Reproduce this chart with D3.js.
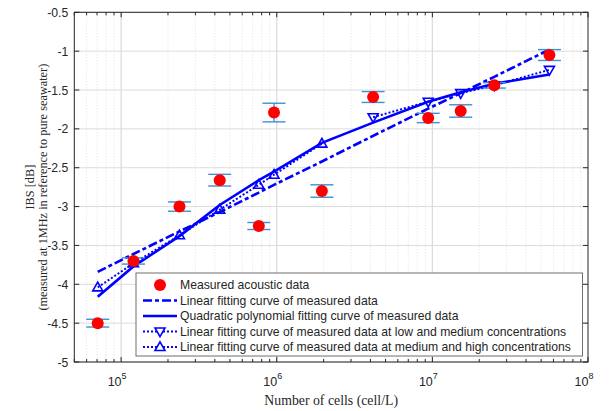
<!DOCTYPE html>
<html>
<head>
<meta charset="utf-8">
<script src="https://cdn.jsdelivr.net/npm/d3@7"></script>
<style>
  body { margin: 0; background: #fff; }
  text { font-family: Arial, "Liberation Sans", sans-serif; fill: #262626; }
  .serif { font-family: "Times New Roman", "Liberation Serif", serif; }
</style>
</head>
<body>
<div id="chart"></div>
<script>
// cell counts (cell/L) for each measurement
var cells = [7.07e4, 1.2e5, 2.37e5, 4.3e5, 7.67e5, 9.6e5, 1.95e6, 4.16e6, 9.4e6, 1.52e7, 2.5e7, 5.65e7];
var measured = [-4.5, -3.7, -3.0, -2.66, -3.25, -1.79, -2.8, -1.59, -1.86, -1.77, -1.44, -1.05];
var errHalf = [0.05, 0.04, 0.06, 0.075, 0.045, 0.12, 0.08, 0.07, 0.06, 0.08, 0.035, 0.07];

var linearFit = [-3.84, -3.61, -3.32, -3.07, -2.82, -2.72, -2.42, -2.09, -1.74, -1.54, -1.33, -0.98];
var quadFit = [-4.16, -3.77, -3.38, -2.98, -2.66, -2.55, -2.18, -1.92, -1.65, -1.53, -1.42, -1.30];
// dotted fits (markers as drawn in the figure)
var downTriX = [4.16e6, 9.4e6, 1.52e7, 2.5e7, 5.65e7];
var downTriY = [-1.85, -1.65, -1.54, -1.44, -1.24];
var upTriX = [7.07e4, 1.2e5, 2.37e5, 4.3e5, 7.67e5, 9.6e5, 1.95e6];
var upTriY = [-4.04, -3.73, -3.37, -3.04, -2.72, -2.59, -2.19];

var yTicks = [-5, -4.5, -4, -3.5, -3, -2.5, -2, -1.5, -1, -0.5];
var xDecades = [5, 6, 7, 8];

var legendLabels = [
  "Measured acoustic data",
  "Linear fitting curve of measured data",
  "Quadratic polynomial fitting curve of measured data",
  "Linear fitting curve of measured data at low and medium concentrations",
  "Linear fitting curve of measured data at medium and high concentrations"
];

var width = 610, height = 411;
var pLeft = 74.3, pTop = 12.3, pRight = 588, pBottom = 362;
var blue = "#0000ff";

var svg = d3.select("#chart").append("svg")
  .attr("width", width)
  .attr("height", height);

var x = d3.scaleLog().domain([5e4, 1e8]).range([pLeft, pRight]);
var y = d3.scaleLinear().domain([-5, -0.5]).range([pBottom, pTop]);

// minor x grid (dotted)
var minors = [];
[4, 5, 6, 7].forEach(function(d) {
  for (var k = 2; k < 10; k++) {
    var v = k * Math.pow(10, d);
    if (v >= 5e4 && v < 1e8) minors.push(v);
  }
});
svg.append("g").selectAll("line").data(minors).enter().append("line")
  .attr("x1", function(d) { return x(d); }).attr("x2", function(d) { return x(d); })
  .attr("y1", pTop).attr("y2", pBottom)
  .attr("stroke", "#d9d9d9").attr("stroke-width", 0.8).attr("stroke-dasharray", "1,2");

// major grid
svg.append("g").selectAll("line").data(yTicks).enter().append("line")
  .attr("x1", pLeft).attr("x2", pRight)
  .attr("y1", function(d) { return y(d); }).attr("y2", function(d) { return y(d); })
  .attr("stroke", "#dcdcdc").attr("stroke-width", 1);
svg.append("g").selectAll("line").data([5, 6, 7]).enter().append("line")
  .attr("x1", function(d) { return x(Math.pow(10, d)); }).attr("x2", function(d) { return x(Math.pow(10, d)); })
  .attr("y1", pTop).attr("y2", pBottom)
  .attr("stroke", "#dcdcdc").attr("stroke-width", 1.3);

// axes box + ticks
var axisCol = "#262626";
svg.append("rect").attr("x", pLeft).attr("y", pTop)
  .attr("width", pRight - pLeft).attr("height", pBottom - pTop)
  .attr("fill", "none").attr("stroke", axisCol).attr("stroke-width", 1);

var tk = svg.append("g").attr("stroke", axisCol).attr("stroke-width", 1);
yTicks.forEach(function(d) {
  tk.append("line").attr("x1", pLeft).attr("x2", pLeft + 5).attr("y1", y(d)).attr("y2", y(d));
  tk.append("line").attr("x1", pRight).attr("x2", pRight - 5).attr("y1", y(d)).attr("y2", y(d));
});
xDecades.forEach(function(d) {
  var px = x(Math.pow(10, d));
  tk.append("line").attr("x1", px).attr("x2", px).attr("y1", pBottom).attr("y2", pBottom - 5);
  tk.append("line").attr("x1", px).attr("x2", px).attr("y1", pTop).attr("y2", pTop + 5);
});
minors.forEach(function(v) {
  var px = x(v);
  tk.append("line").attr("x1", px).attr("x2", px).attr("y1", pBottom).attr("y2", pBottom - 3);
  tk.append("line").attr("x1", px).attr("x2", px).attr("y1", pTop).attr("y2", pTop + 3);
});

// tick labels
svg.append("g").selectAll("text").data(yTicks).enter().append("text")
  .attr("x", pLeft - 6).attr("y", function(d) { return y(d) + 4.5; })
  .attr("text-anchor", "end").attr("font-size", 12.2)
  .text(function(d) { return d; });

var xl = svg.append("g").selectAll("text").data(xDecades).enter().append("text")
  .attr("x", function(d) { return x(Math.pow(10, d)) - 4; }).attr("y", 386)
  .attr("text-anchor", "middle").attr("font-size", 12.5);
xl.append("tspan").text("10");
xl.append("tspan").attr("font-size", 9).attr("dy", -7).text(function(d) { return d; });

// axis labels
svg.append("text").attr("class", "serif")
  .attr("x", (pLeft + pRight) / 2).attr("y", 405)
  .attr("text-anchor", "middle").attr("font-size", 13.8)
  .text("Number of cells (cell/L)");
var yl = svg.append("text").attr("class", "serif")
  .attr("transform", "translate(34," + ((pTop + pBottom) / 2) + ") rotate(-90)")
  .attr("text-anchor", "middle").attr("font-size", 12.3);
yl.append("tspan").attr("x", 0).attr("y", 0).text("IBS [dB]");
yl.append("tspan").attr("x", 0).attr("y", 12.5).text("(measured at 1MHz in reference to pure seawater)");

// fitted lines
var line = d3.line().x(function(d) { return x(d[0]); }).y(function(d) { return y(d[1]); });
svg.append("path").datum(d3.zip(cells, linearFit)).attr("d", line)
  .attr("fill", "none").attr("stroke", blue).attr("stroke-width", 2.6).attr("stroke-dasharray", "9,3,4,3");
svg.append("path").datum(d3.zip(cells, quadFit)).attr("d", line)
  .attr("fill", "none").attr("stroke", blue).attr("stroke-width", 2.6);
svg.append("path").datum(d3.zip(downTriX, downTriY)).attr("d", line)
  .attr("fill", "none").attr("stroke", blue).attr("stroke-width", 2).attr("stroke-dasharray", "2,2");
svg.append("path").datum(d3.zip(upTriX, upTriY)).attr("d", line)
  .attr("fill", "none").attr("stroke", blue).attr("stroke-width", 2).attr("stroke-dasharray", "2,2");

function tri(cx, cy, up, s) {
  var h = s * 0.87;
  if (up) return "M" + cx + "," + (cy - h * 0.6) + "L" + (cx + s / 2) + "," + (cy + h * 0.4) + "L" + (cx - s / 2) + "," + (cy + h * 0.4) + "Z";
  return "M" + cx + "," + (cy + h * 0.6) + "L" + (cx + s / 2) + "," + (cy - h * 0.4) + "L" + (cx - s / 2) + "," + (cy - h * 0.4) + "Z";
}

// error bars
var eb = svg.append("g").attr("stroke", "#3f8fd2").attr("stroke-width", 1.4);
cells.forEach(function(c, i) {
  var px = x(c), y0 = y(measured[i] + errHalf[i]), y1 = y(measured[i] - errHalf[i]);
  eb.append("line").attr("x1", px).attr("x2", px).attr("y1", y0).attr("y2", y1);
  eb.append("line").attr("x1", px - 11.5).attr("x2", px + 11.5).attr("y1", y0).attr("y2", y0);
  eb.append("line").attr("x1", px - 11.5).attr("x2", px + 11.5).attr("y1", y1).attr("y2", y1);
});

// triangle markers
svg.append("g").selectAll("path").data(d3.zip(downTriX, downTriY)).enter().append("path")
  .attr("d", function(d) { return tri(x(d[0]), y(d[1]), false, 10); })
  .attr("fill", "none").attr("stroke", blue).attr("stroke-width", 1.6);
svg.append("g").selectAll("path").data(d3.zip(upTriX, upTriY)).enter().append("path")
  .attr("d", function(d) { return tri(x(d[0]), y(d[1]), true, 10); })
  .attr("fill", "none").attr("stroke", blue).attr("stroke-width", 1.6);

// measured points
svg.append("g").selectAll("circle").data(d3.zip(cells, measured)).enter().append("circle")
  .attr("cx", function(d) { return x(d[0]); }).attr("cy", function(d) { return y(d[1]); })
  .attr("r", 6).attr("fill", "#ff0000");

// legend
var lg = svg.append("g");
lg.append("rect").attr("x", 136).attr("y", 273).attr("width", 446.5).attr("height", 83)
  .attr("fill", "#fff").attr("stroke", "#6e6e6e").attr("stroke-width", 1);
var rowY = [285, 300.5, 316, 331.5, 347];
legendLabels.forEach(function(lab, i) {
  var ry = rowY[i];
  if (i == 0) {
    lg.append("circle").attr("cx", 160).attr("cy", ry).attr("r", 6).attr("fill", "#ff0000");
  } else {
    var ln = lg.append("line").attr("x1", 143).attr("x2", 177).attr("y1", ry).attr("y2", ry).attr("stroke", blue);
    if (i == 1) ln.attr("stroke-width", 2.6).attr("stroke-dasharray", "9,3,4,3");
    if (i == 2) ln.attr("stroke-width", 2.6);
    if (i >= 3) {
      ln.attr("stroke-width", 2).attr("stroke-dasharray", "2,2");
      lg.append("path").attr("d", tri(160, ry, i == 4, 10))
        .attr("fill", "#fff").attr("stroke", blue).attr("stroke-width", 1.6);
    }
  }
  lg.append("text").attr("x", 180).attr("y", ry + 4).attr("font-size", 12.2).text(lab);
});
</script>
</body>
</html>
